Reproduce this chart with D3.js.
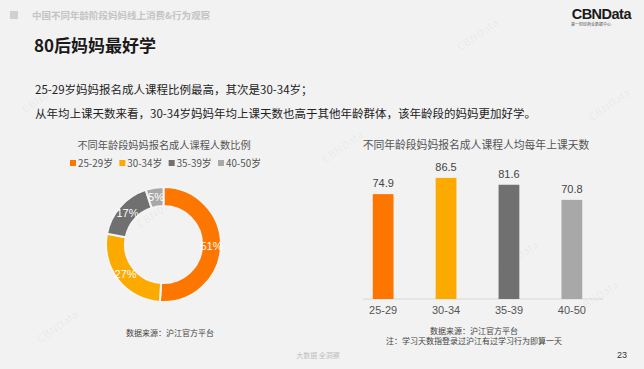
<!DOCTYPE html>
<html>
<head>
<meta charset="utf-8">
<script src="https://cdn.jsdelivr.net/npm/d3@7"></script>
<style>
  html, body { margin: 0; padding: 0; background: #f2f2f2; }
  svg { display: block; font-family: "Noto Sans CJK SC", "Noto Sans", sans-serif; }
</style>
</head>
<body>
<div id="chart"></div>
<script>
// data
var pieCategories = ["25-29岁", "30-34岁", "35-39岁", "40-50岁"];
var pieValues = [51, 27, 17, 5];
var barCategories = ["25-29", "30-34", "35-39", "40-50"];
var barValues = [74.9, 86.5, 81.6, 70.8];
var colors = ["#fc7600", "#fdaa00", "#707070", "#a8a8a8"];

var W = 644, H = 369;

var svg = d3.select("#chart").append("svg")
    .attr("width", W)
    .attr("height", H);

// background
svg.append("rect").attr("width", W).attr("height", H).attr("fill", "#f2f2f2");

// faint watermarks
var marks = [[480, 38], [612, 108], [160, 215], [345, 150], [520, 260], [45, 100], [600, 300], [60, 330]];
svg.selectAll(".wm").data(marks).enter().append("text")
    .attr("class", "wm")
    .attr("transform", function(d) { return "translate(" + d[0] + "," + d[1] + ") rotate(-35)"; })
    .attr("font-size", 11)
    .attr("font-weight", "bold")
    .attr("fill", "#000")
    .attr("fill-opacity", 0.035)
    .attr("text-anchor", "middle")
    .text("CBNData");

// header
svg.append("rect").attr("x", 10).attr("y", 11).attr("width", 8).attr("height", 8).attr("fill", "#d0d0d0");
svg.append("text").attr("x", 32).attr("y", 19)
    .attr("font-size", 9.5).attr("fill", "#c4c4c4").attr("font-weight", "bold")
    .text("中国不同年龄阶段妈妈线上消费&行为观察");

svg.append("text").attr("x", 631).attr("y", 19)
    .attr("text-anchor", "end").attr("font-size", 14.5).attr("font-weight", "bold")
    .attr("font-family", "Liberation Sans, Arial, sans-serif")
    .attr("fill", "#1a1a1a").attr("letter-spacing", -0.5)
    .text("CBNData");
svg.append("text").attr("x", 571).attr("y", 25.5)
    .attr("font-size", 4).attr("fill", "#555")
    .text("第一财经商业数据中心");

// title
svg.append("text").attr("x", 34).attr("y", 52)
    .attr("font-size", 17).attr("font-weight", "bold").attr("fill", "#1a1a1a")
    .text("80后妈妈最好学");

svg.append("text").attr("x", 35).attr("y", 94)
    .attr("font-size", 11.5).attr("fill", "#222")
    .text("25-29岁妈妈报名成人课程比例最高，其次是30-34岁；");
svg.append("text").attr("x", 35).attr("y", 118)
    .attr("font-size", 11.5).attr("fill", "#222")
    .text("从年均上课天数来看，30-34岁妈妈年均上课天数也高于其他年龄群体，该年龄段的妈妈更加好学。");

// ---- donut chart ----
svg.append("text").attr("x", 164).attr("y", 149)
    .attr("text-anchor", "middle").attr("font-size", 10.2).attr("fill", "#555")
    .text("不同年龄段妈妈报名成人课程人数比例");

var legendX = d3.scalePoint().domain(pieCategories).range([70, 218]);
var legend = svg.selectAll(".lg").data(pieCategories).enter().append("g")
    .attr("class", "lg")
    .attr("transform", function(d) { return "translate(" + legendX(d) + ",163)"; });
legend.append("rect").attr("x", 0).attr("y", -3).attr("width", 6).attr("height", 6)
    .attr("fill", function(d, i) { return colors[i]; });
legend.append("text").attr("x", 8).attr("y", 3.6)
    .attr("font-size", 9.8).attr("fill", "#555")
    .text(function(d) { return d; });

var cx = 163.5, cy = 244.5;
var pie = d3.pie().sort(null).value(function(d) { return d; });
var arc = d3.arc().innerRadius(38.5).outerRadius(57.5);
var donut = svg.append("g").attr("transform", "translate(" + cx + "," + cy + ")");
var arcs = pie(pieValues);
donut.selectAll("path").data(arcs).enter().append("path")
    .attr("d", arc)
    .attr("fill", function(d, i) { return colors[i]; })
    .attr("stroke", "#f4f4f4")
    .attr("stroke-width", 2);
donut.selectAll(".pl").data(arcs).enter().append("text")
    .attr("class", "pl")
    .attr("transform", function(d) { return "translate(" + arc.centroid(d) + ")"; })
    .attr("text-anchor", "middle").attr("dy", "0.35em")
    .attr("font-size", 11).attr("fill", "#fff")
    .attr("font-family", "Liberation Sans, Arial, sans-serif")
    .text(function(d) { return d.data + "%"; });

svg.append("text").attr("x", 170).attr("y", 336)
    .attr("text-anchor", "middle").attr("font-size", 8).attr("fill", "#444")
    .text("数据来源：沪江官方平台");

// ---- bar chart ----
svg.append("text").attr("x", 476).attr("y", 149)
    .attr("text-anchor", "middle").attr("font-size", 10.8).attr("fill", "#555")
    .text("不同年龄段妈妈报名成人课程人均每年上课天数");

var x = d3.scaleBand().domain(barCategories).range([352, 603]).paddingInner(0.67).paddingOuter(0.33);
var y = d3.scaleLinear().domain([0, 100]).range([299, 159]);

svg.append("line").attr("x1", 363).attr("x2", 603).attr("y1", y(0)).attr("y2", y(0))
    .attr("stroke", "#d8d8d8").attr("stroke-width", 1);

svg.selectAll(".bar").data(barValues).enter().append("rect")
    .attr("class", "bar")
    .attr("x", function(d, i) { return x(barCategories[i]); })
    .attr("y", function(d) { return y(d); })
    .attr("width", x.bandwidth())
    .attr("height", function(d) { return y(0) - y(d); })
    .attr("fill", function(d, i) { return colors[i]; });

svg.selectAll(".bv").data(barValues).enter().append("text")
    .attr("class", "bv")
    .attr("x", function(d, i) { return x(barCategories[i]) + x.bandwidth() / 2; })
    .attr("y", function(d) { return y(d) - 7; })
    .attr("text-anchor", "middle").attr("font-size", 11).attr("fill", "#444")
    .attr("font-family", "Liberation Sans, Arial, sans-serif")
    .text(function(d) { return d.toFixed(1); });

var xAxis = svg.append("g")
    .attr("transform", "translate(0," + y(0) + ")")
    .call(d3.axisBottom(x).tickSize(0).tickPadding(7));
xAxis.select(".domain").remove();
xAxis.selectAll("text")
    .attr("font-size", 11).attr("fill", "#555")
    .attr("font-family", "Liberation Sans, Arial, sans-serif");

svg.append("text").attr("x", 474).attr("y", 333.5)
    .attr("text-anchor", "middle").attr("font-size", 8).attr("fill", "#444")
    .text("数据来源：沪江官方平台");
svg.append("text").attr("x", 474).attr("y", 343.5)
    .attr("text-anchor", "middle").attr("font-size", 8).attr("fill", "#444")
    .text("注：学习天数指登录过沪江有过学习行为即算一天");

// footer
svg.append("text").attr("x", 318).attr("y", 358)
    .attr("text-anchor", "middle").attr("font-size", 7).attr("fill", "#c0c0c0")
    .text("大数据 全洞察");
svg.append("text").attr("x", 627).attr("y", 358)
    .attr("text-anchor", "end").attr("font-size", 9).attr("fill", "#333")
    .attr("font-family", "Liberation Sans, Arial, sans-serif")
    .text("23");
</script>
</body>
</html>
